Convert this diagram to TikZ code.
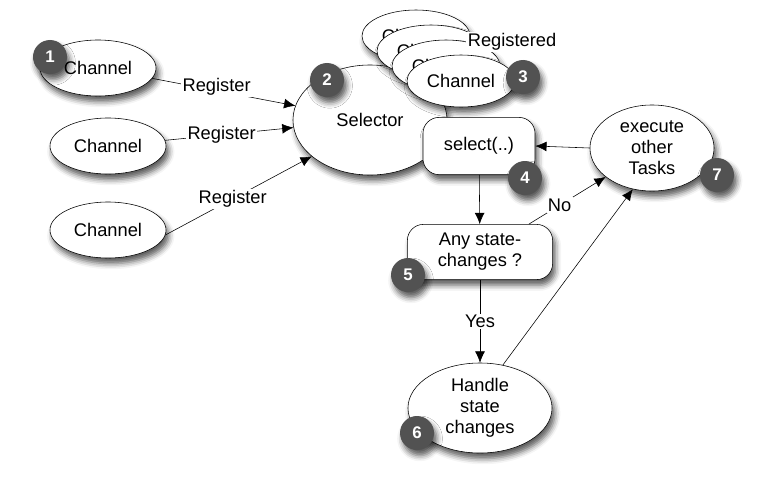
\documentclass[tikz,border=0pt]{standalone}
\usepackage{fontspec}
\setmainfont{Liberation Sans}
\usetikzlibrary{shapes.geometric,shadows.blur,arrows.meta}
\definecolor{numgray}{RGB}{82,82,82}

\begin{document}
\begin{tikzpicture}[x=0.025cm,y=-0.025cm,>={Latex[length=8pt,width=7pt]},
    font=\fontsize{13}{15}\selectfont,
    dropsh/.style={blur shadow={shadow xshift=0.07cm,shadow yshift=-0.14cm,
      shadow blur radius=0.14cm,shadow opacity=65}},
    oval/.style={ellipse,draw,fill=white,inner sep=0pt,align=center,dropsh},
    chan/.style={oval,minimum width=2.9cm,minimum height=1.4cm},
    stk/.style={oval,minimum width=2.7cm,minimum height=1.3cm},
    box/.style={rectangle,rounded corners=0.4cm,draw,fill=white,align=center,dropsh},
    num/.style={circle,fill=numgray,text=white,minimum size=0.85cm,inner sep=0pt,
      font=\fontsize{12}{14}\selectfont\bfseries,dropsh},
    lbl/.style={fill=white,inner sep=1pt}]
      \useasboundingbox (0,0) rectangle (775,488);

      \node[chan] (ch1) at (98,68) {Channel};
      \node[chan] (ch2) at (108,146) {Channel};
      \node[chan] (ch3) at (108,230) {Channel};
      \node[oval,minimum width=3.85cm,minimum height=2.75cm] (sel) at (370,120) {Selector};

      \foreach \k in {0,1,2}
        \node[stk] (st\k) at (416+15*\k,36+15*\k) {Channel};
      \node[stk] (st3) at (461,81) {Channel};
      \node[lbl] (regd) at (512,42) {Registered};

      \node[box,minimum width=2.8cm,minimum height=1.43cm] (selb) at (479,146) {select(..)};
      \node[box,minimum width=3.63cm,minimum height=1.38cm] (any) at (480,252) {Any state-\\changes ?};
      \node[oval,minimum width=3.6cm,minimum height=2.25cm] (hdl) at (480,408) {Handle\\state\\changes};
      \node[oval,minimum width=3.1cm,minimum height=2.15cm] (exec) at (652,148) {execute\\other\\Tasks};

      \draw[->] (ch1) -- node[lbl,pos=0.45,yshift=0.1cm] {Register} (sel);
      \draw[->] (ch2) -- node[lbl,pos=0.44] {Register} (sel);
      \draw[->] (ch3.-5) -- node[lbl,pos=0.46] {Register} (sel.212);
      \draw[->] (selb) -- (any);
      \draw[->] (exec.west) -- (selb.east);
      \draw[->] ([xshift=-0.6cm]any.north east) -- node[lbl,pos=0.4] {No} (exec.212);
      \draw[->] (any) -- node[lbl] {Yes} (hdl);
      \draw[->] (hdl.62) -- (exec.245);

      \node[num] (n1) at (50,57) {1};
      \node[num] (n2) at (327,80) {2};
      \node[num] (n3) at (523,77) {3};
      \node[num] (n4) at (525,178) {4};
      \node[num] (n5) at (408,275) {5};
      \node[num] (n6) at (417,433) {6};
      \node[num] (n7) at (717,175) {7};
\end{tikzpicture}
\end{document}
